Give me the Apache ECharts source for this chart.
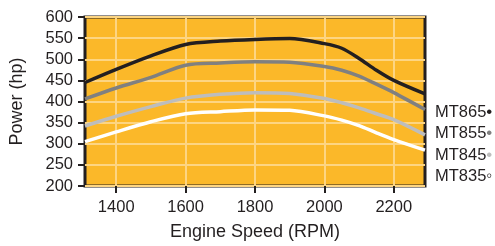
<!DOCTYPE html>
<html>
<head>
<meta charset="utf-8">
<script src="https://cdn.jsdelivr.net/npm/echarts@6/dist/echarts.min.js"></script>
<style>
  html, body { margin: 0; padding: 0; background: #fff; }
  #chart { width: 495px; height: 246px; }
</style>
</head>
<body>
<div id="chart"></div>
<script>
  // engine speed samples (RPM)
  var rpm = [1310, 1400, 1500, 1600, 1700, 1800, 1900, 2000, 2050, 2100, 2150, 2200, 2290];
  // power curves (hp)
  var mt865 = [445, 476, 508, 535, 543, 547, 549, 537, 526, 502, 474, 450, 418];
  var mt855 = [406, 432, 457, 486, 491, 494, 493, 483, 474, 460, 441, 421, 381];
  var mt845 = [342, 365, 388, 408, 417, 421, 419, 407, 397, 385, 371, 357, 321];
  var mt835 = [305, 328, 352, 371, 376, 380, 379, 366, 356, 343, 326, 310, 285];
  var models = ['MT865', 'MT855', 'MT845', 'MT835'];
  var xTicks = [1400, 1600, 1800, 2000, 2200];

  var ink = '#231f20';
  var font = '"Liberation Sans", Arial, sans-serif';

  function pairs(vals) {
    return vals.map(function (v, i) { return [rpm[i], v]; });
  }

  function line(name, vals, color) {
    return {
      name: name,
      type: 'line',
      data: pairs(vals),
      smooth: 0.3,
      symbol: 'none',
      lineStyle: { color: color, width: 3.5 },
      itemStyle: { color: color }
    };
  }

  var chart = echarts.init(document.getElementById('chart'));
  chart.setOption({
    animation: false,
    textStyle: { fontFamily: font },
    grid: {
      left: 85, right: 70, top: 17, bottom: 60,
      show: true,
      backgroundColor: '#fbb829',
      borderColor: ink,
      borderWidth: 3
    },
    legend: {
      orient: 'vertical',
      left: 425,
      top: 97,
      icon: 'none',
      itemWidth: 0,
      itemGap: 1.5,
      selectedMode: false,
      data: models,
      formatter: function (name) {
        return name + '{d' + models.indexOf(name) + '|' + (name === 'MT835' ? '◦' : '•') + '}';
      },
      textStyle: {
        fontFamily: font,
        fontSize: 16.5,
        color: ink,
        lineHeight: 20,
        rich: {
          d0: { color: ink, fontSize: 17 },
          d1: { color: '#808080', fontSize: 17 },
          d2: { color: '#bdbdbd', fontSize: 17 },
          d3: { color: ink, fontSize: 17 }
        }
      }
    },
    xAxis: {
      type: 'value',
      min: 1310,
      max: 2290,
      name: 'Engine Speed (RPM)',
      nameLocation: 'middle',
      nameGap: 37,
      nameTextStyle: { fontFamily: font, fontSize: 18, color: ink },
      axisLine: { show: false },
      axisTick: { show: true, customValues: xTicks, length: 7, lineStyle: { color: ink, width: 2 } },
      axisLabel: {
        customValues: xTicks, margin: 13, fontSize: 16.5, color: ink, fontFamily: font,
        formatter: function (v) { return String(v); }
      },
      splitLine: { show: true, lineStyle: { color: '#fdd582', width: 2 } }
    },
    yAxis: {
      type: 'value',
      min: 200,
      max: 600,
      interval: 50,
      name: 'Power (hp)',
      nameLocation: 'middle',
      nameGap: 59,
      nameTextStyle: { fontFamily: font, fontSize: 18, color: ink },
      axisLine: { show: false },
      axisTick: { show: true, length: 7, lineStyle: { color: ink, width: 2 } },
      axisLabel: { margin: 12, fontSize: 16.5, color: ink, fontFamily: font },
      splitLine: { show: true, lineStyle: { color: '#fdd582', width: 2 } }
    },
    series: [
      line('MT865', mt865, ink),
      line('MT855', mt855, '#808080'),
      line('MT845', mt845, '#bdbdbd'),
      line('MT835', mt835, '#ffffff')
    ]
  });
  window.addEventListener('resize', function () { chart.resize(); });
</script>
</body>
</html>
